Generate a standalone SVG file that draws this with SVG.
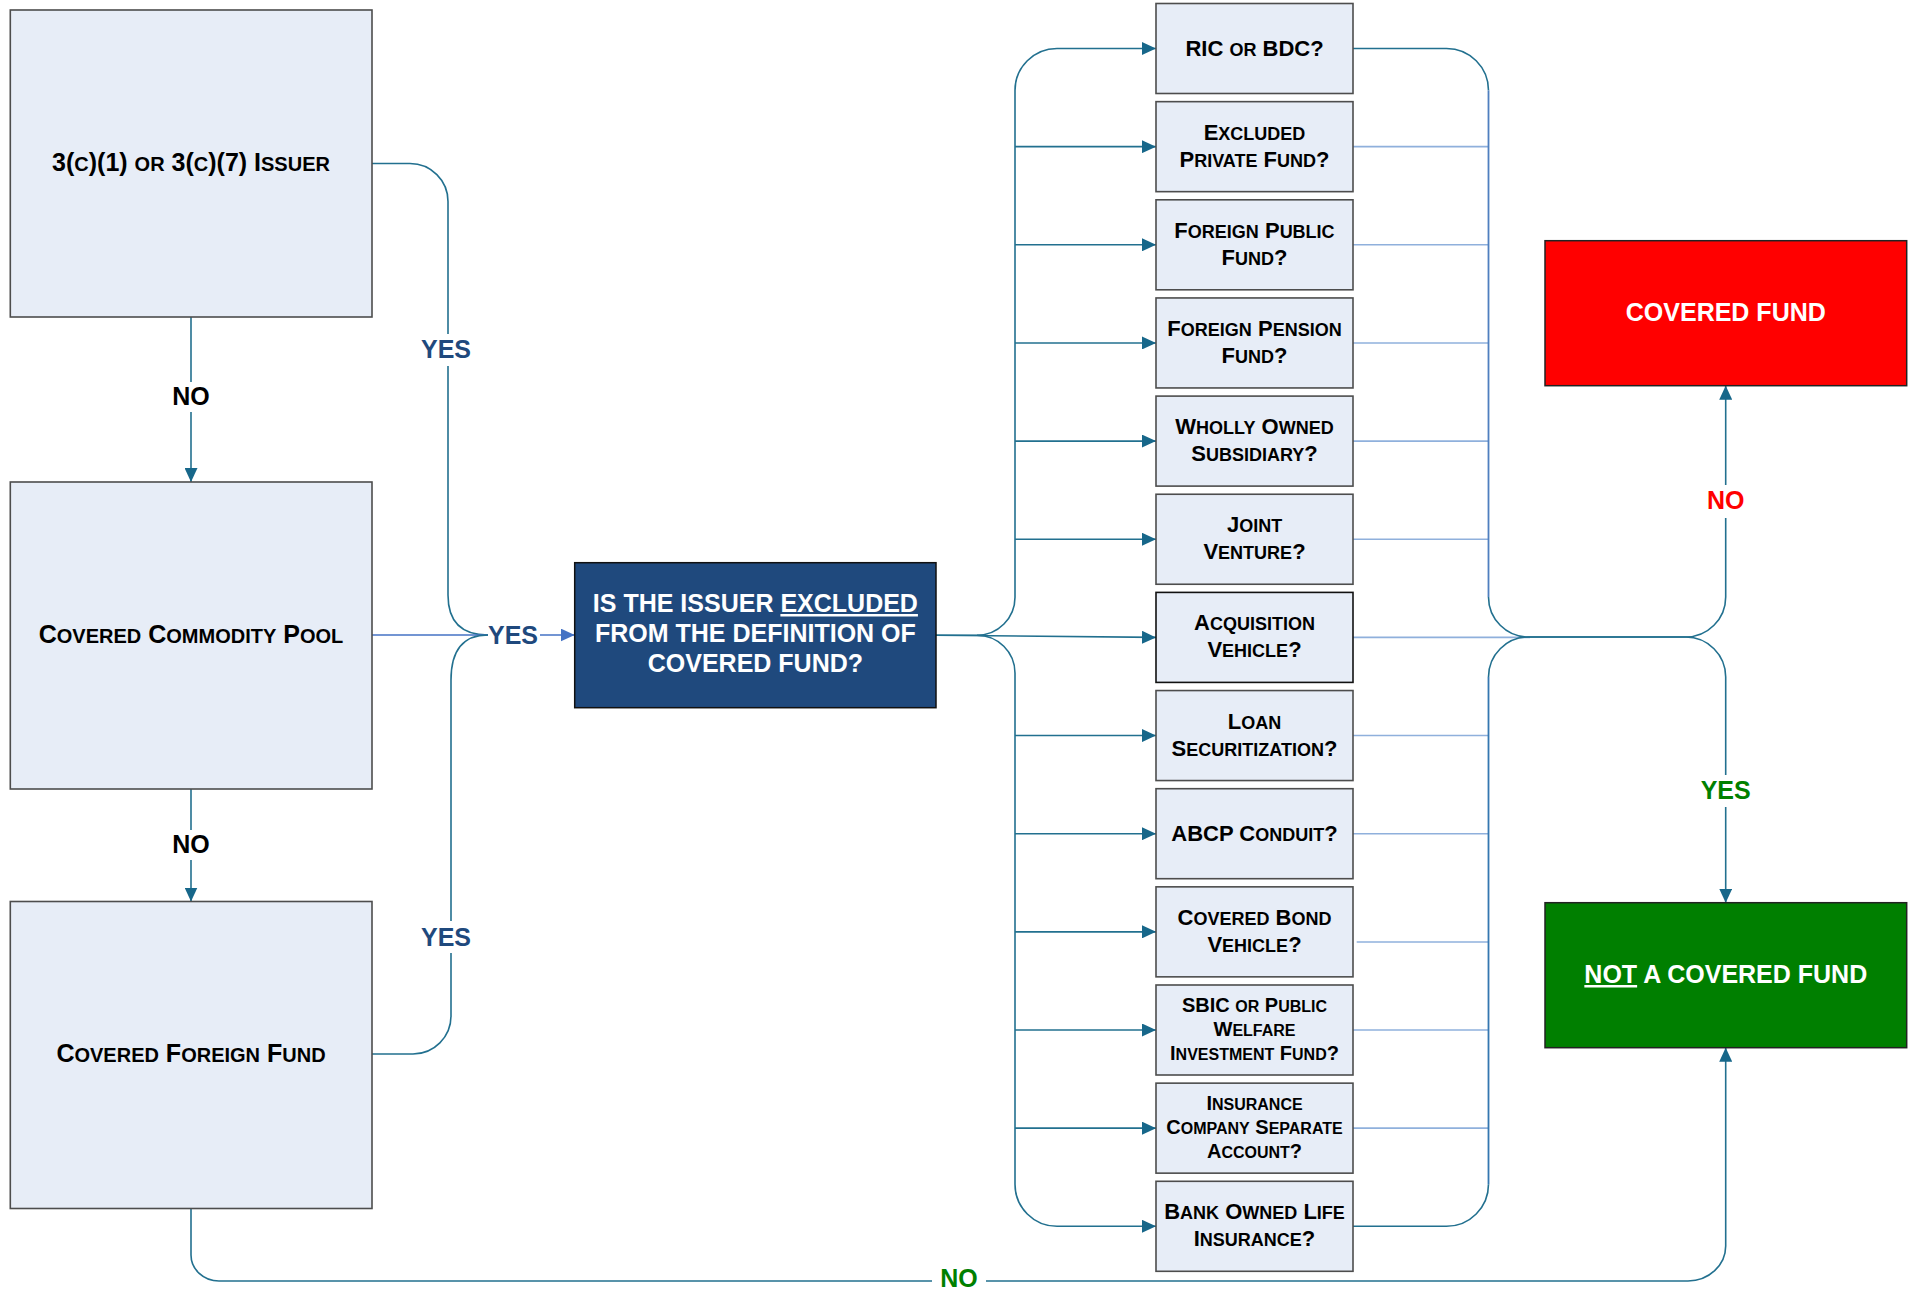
<svg xmlns="http://www.w3.org/2000/svg" width="1918" height="1292" viewBox="0 0 1918 1292">
  <style>
    .box { fill: #E7EDF7; stroke: #4D4D4D; stroke-width: 1.6; }
    .t { font-family: 'Liberation Sans', Arial, sans-serif; font-weight: bold; text-anchor: middle; fill: #000; }
    .big { font-size: 25px; }
    .big .s { font-size: 20px; }
    .q { font-size: 22px; }
    .q .s { font-size: 18px; }
    .q3 { font-size: 20px; }
    .q3 .s { font-size: 16px; }
    .w { fill: #FFFFFF; }
    .tl { fill: none; stroke: #22708F; stroke-width: 1.6; }
    .lb { fill: none; stroke: #8FB0DC; stroke-width: 1.6; }
    .rb { fill: none; stroke: #4F7FBF; stroke-width: 1.8; }
    .bl { fill: none; stroke: #4472C4; stroke-width: 1.6; }
    .lab-blue { fill: #1F497D; }
    .lab-red { fill: #FF0000; }
    .lab-green { fill: #008000; }
  </style>
  <defs>
    <marker id="ah" viewBox="0 0 14 13" refX="14" refY="6.5" markerWidth="14" markerHeight="13" markerUnits="userSpaceOnUse" orient="auto">
      <path d="M0,0 L14,6.5 L0,13 z" fill="#17678A"/>
    </marker>
    <marker id="ahb" viewBox="0 0 14 13" refX="14" refY="6.5" markerWidth="14" markerHeight="13" markerUnits="userSpaceOnUse" orient="auto">
      <path d="M0,0 L14,6.5 L0,13 z" fill="#4472C4"/>
    </marker>
  </defs>

  <rect width="1918" height="1292" fill="#FFFFFF"/>

  <!-- connectors -->
  <g id="connectors">
    <!-- left column: NO chain -->
    <path class="tl" d="M191,317 V382"/>
    <path class="tl" d="M191,412 V482" marker-end="url(#ah)"/>
    <path class="tl" d="M191,789 V830"/>
    <path class="tl" d="M191,860 V901.5" marker-end="url(#ah)"/>

    <!-- YES feeds into the question -->
    <path class="tl" d="M372,163.5 H410 A38,38 0 0 1 448,201.5 V334"/>
    <path class="tl" d="M448,366 V595 C448,622 462,635 488,635"/>
    <path class="bl" d="M372,635 H488"/>
    <path class="tl" d="M372,1054 H413 A38,38 0 0 0 451,1016 V953"/>
    <path class="tl" d="M451,921 V680 C451,648 465,635 488,635"/>
    <path class="bl" d="M540,635 H574.7" marker-end="url(#ahb)"/>

    <!-- question fans out to the exclusion tests -->
    <path class="tl" d="M936,635.2 H977 A38,38 0 0 0 1015,597 V90.5 A42,42 0 0 1 1057,48.5 H1156" marker-end="url(#ah)"/>
    <path class="tl" d="M977,635.2 A38,38 0 0 1 1015,673 V1184.3 A42,42 0 0 0 1057,1226.3 H1156" marker-end="url(#ah)"/>
    <path class="tl" d="M936,635.2 L1156,637.4" marker-end="url(#ah)"/>
    <path class="tl" d="M1015,146.65 H1156" marker-end="url(#ah)"/>
    <path class="tl" d="M1015,244.8 H1156" marker-end="url(#ah)"/>
    <path class="tl" d="M1015,342.95 H1156" marker-end="url(#ah)"/>
    <path class="tl" d="M1015,441.1 H1156" marker-end="url(#ah)"/>
    <path class="tl" d="M1015,539.25 H1156" marker-end="url(#ah)"/>
    <path class="tl" d="M1015,735.55 H1156" marker-end="url(#ah)"/>
    <path class="tl" d="M1015,833.7 H1156" marker-end="url(#ah)"/>
    <path class="tl" d="M1015,931.85 H1156" marker-end="url(#ah)"/>
    <path class="tl" d="M1015,1030 H1156" marker-end="url(#ah)"/>
    <path class="tl" d="M1015,1128.15 H1156" marker-end="url(#ah)"/>

    <!-- exclusion tests gather on the right -->
    <path class="lb" d="M1353,146.65 H1488.5"/>
    <path class="lb" d="M1353,244.8 H1488.5"/>
    <path class="lb" d="M1353,342.95 H1488.5"/>
    <path class="lb" d="M1353,441.1 H1488.5"/>
    <path class="lb" d="M1353,539.25 H1488.5"/>
    <path class="lb" d="M1353,637.4 H1530"/>
    <path class="lb" d="M1353,735.55 H1488.5"/>
    <path class="lb" d="M1353,833.7 H1488.5"/>
    <path class="lb" d="M1356.7,942 H1488.5"/>
    <path class="lb" d="M1353,1030 H1488.5"/>
    <path class="lb" d="M1353,1128.15 H1488.5"/>

    <!-- upper trunk to COVERED FUND -->
    <path class="tl" d="M1353,48.5 H1446.5 A42,42 0 0 1 1488.5,90.5"/>
    <path class="rb" d="M1488.5,90.5 V597"/>
    <path class="tl" d="M1488.5,597 A40,40 0 0 0 1528.5,637 H1685.7 A40,40 0 0 0 1725.7,597 V518"/>
    <path class="tl" d="M1725.7,485 V385.7" marker-end="url(#ah)"/>

    <!-- lower trunk to NOT A COVERED FUND -->
    <path class="tl" d="M1353,1226.3 H1446.5 A42,42 0 0 0 1488.5,1184.3"/>
    <path class="rb" d="M1488.5,1184.3 V677" style="stroke:#3577B0"/>
    <path class="tl" d="M1488.5,677 A40,40 0 0 1 1528.5,637 H1685.7 A40,40 0 0 1 1725.7,677 V775"/>
    <path class="tl" d="M1725.7,807 V902.7" marker-end="url(#ah)"/>

    <!-- bottom NO from covered foreign fund -->
    <path class="tl" d="M191,1208.5 V1255 A28,26 0 0 0 219,1281 H932"/>
    <path class="tl" d="M986,1281 H1688 A38,35 0 0 0 1725.7,1246 V1047.7" marker-end="url(#ah)"/>

    <!-- connector labels -->
    <text class="t big" x="191" y="405">NO</text>
    <text class="t big" x="191" y="853">NO</text>
    <text class="t big lab-blue" x="446" y="358">YES</text>
    <text class="t big lab-blue" x="446" y="946">YES</text>
    <text class="t big lab-blue" x="513" y="644">YES</text>
    <text class="t big lab-red" x="1725.7" y="508.5">NO</text>
    <text class="t big lab-green" x="1725.7" y="799">YES</text>
    <text class="t big lab-green" x="959" y="1286.5">NO</text>
  </g>

  <!-- left column nodes -->
  <g id="n-issuer">
    <rect class="box" x="10.3" y="10" width="361.7" height="307"/>
    <text class="t big" x="191" y="171">3(<tspan class="s">C</tspan>)(1) <tspan class="s">OR</tspan> 3(<tspan class="s">C</tspan>)(7) I<tspan class="s">SSUER</tspan></text>
  </g>
  <g id="n-commodity-pool">
    <rect class="box" x="10.3" y="482" width="361.7" height="307"/>
    <text class="t big" x="191" y="643">C<tspan class="s">OVERED</tspan> C<tspan class="s">OMMODITY</tspan> P<tspan class="s">OOL</tspan></text>
  </g>
  <g id="n-foreign-fund">
    <rect class="box" x="10.3" y="901.5" width="361.7" height="307"/>
    <text class="t big" x="191" y="1062">C<tspan class="s">OVERED</tspan> F<tspan class="s">OREIGN</tspan> F<tspan class="s">UND</tspan></text>
  </g>

  <!-- central question -->
  <g id="n-question">
    <rect x="574.7" y="562.7" width="361.3" height="145" fill="#1F497D" stroke="#111111" stroke-width="1.5"/>
    <text class="t big w" x="755.4" y="612">IS THE ISSUER <tspan style="text-decoration:underline">EXCLUDED</tspan></text>
    <text class="t big w" x="755.4" y="642">FROM THE DEFINITION OF</text>
    <text class="t big w" x="755.4" y="672">COVERED FUND?</text>
  </g>

  <!-- exclusion tests -->
  <g id="n-ric-bdc">
    <rect class="box" x="1156" y="3.5" width="197" height="90"/>
    <text class="t q" x="1254.5" y="55.5">RIC <tspan class="s">OR</tspan> BDC?</text>
  </g>
  <g id="n-excluded-private-fund">
    <rect class="box" x="1156" y="101.65" width="197" height="90"/>
    <text class="t q" x="1254.5" y="139.65">E<tspan class="s">XCLUDED</tspan></text>
    <text class="t q" x="1254.5" y="166.65">P<tspan class="s">RIVATE</tspan> F<tspan class="s">UND</tspan>?</text>
  </g>
  <g id="n-foreign-public-fund">
    <rect class="box" x="1156" y="199.8" width="197" height="90"/>
    <text class="t q" x="1254.5" y="237.8">F<tspan class="s">OREIGN</tspan> P<tspan class="s">UBLIC</tspan></text>
    <text class="t q" x="1254.5" y="264.8">F<tspan class="s">UND</tspan>?</text>
  </g>
  <g id="n-foreign-pension-fund">
    <rect class="box" x="1156" y="297.95" width="197" height="90"/>
    <text class="t q" x="1254.5" y="335.95">F<tspan class="s">OREIGN</tspan> P<tspan class="s">ENSION</tspan></text>
    <text class="t q" x="1254.5" y="362.95">F<tspan class="s">UND</tspan>?</text>
  </g>
  <g id="n-wholly-owned-subsidiary">
    <rect class="box" x="1156" y="396.1" width="197" height="90"/>
    <text class="t q" x="1254.5" y="434.1">W<tspan class="s">HOLLY</tspan> O<tspan class="s">WNED</tspan></text>
    <text class="t q" x="1254.5" y="461.1">S<tspan class="s">UBSIDIARY</tspan>?</text>
  </g>
  <g id="n-joint-venture">
    <rect class="box" x="1156" y="494.25" width="197" height="90"/>
    <text class="t q" x="1254.5" y="532.25">J<tspan class="s">OINT</tspan></text>
    <text class="t q" x="1254.5" y="559.25">V<tspan class="s">ENTURE</tspan>?</text>
  </g>
  <g id="n-acquisition-vehicle">
    <rect class="box" x="1156" y="592.4" width="197" height="90" style="stroke:#111111"/>
    <text class="t q" x="1254.5" y="630.4">A<tspan class="s">CQUISITION</tspan></text>
    <text class="t q" x="1254.5" y="657.4">V<tspan class="s">EHICLE</tspan>?</text>
  </g>
  <g id="n-loan-securitization">
    <rect class="box" x="1156" y="690.55" width="197" height="90"/>
    <text class="t q" x="1254.5" y="728.55">L<tspan class="s">OAN</tspan></text>
    <text class="t q" x="1254.5" y="755.55">S<tspan class="s">ECURITIZATION</tspan>?</text>
  </g>
  <g id="n-abcp-conduit">
    <rect class="box" x="1156" y="788.7" width="197" height="90"/>
    <text class="t q" x="1254.5" y="840.7">ABCP C<tspan class="s">ONDUIT</tspan>?</text>
  </g>
  <g id="n-covered-bond-vehicle">
    <rect class="box" x="1156" y="886.85" width="197" height="90"/>
    <text class="t q" x="1254.5" y="924.85">C<tspan class="s">OVERED</tspan> B<tspan class="s">OND</tspan></text>
    <text class="t q" x="1254.5" y="951.85">V<tspan class="s">EHICLE</tspan>?</text>
  </g>
  <g id="n-sbic">
    <rect class="box" x="1156" y="985" width="197" height="90"/>
    <text class="t q3" x="1254.5" y="1012.3">SBIC <tspan class="s">OR</tspan> P<tspan class="s">UBLIC</tspan></text>
    <text class="t q3" x="1254.5" y="1036">W<tspan class="s">ELFARE</tspan></text>
    <text class="t q3" x="1254.5" y="1059.7">I<tspan class="s">NVESTMENT</tspan> F<tspan class="s">UND</tspan>?</text>
  </g>
  <g id="n-insurance-separate-account">
    <rect class="box" x="1156" y="1083.15" width="197" height="90"/>
    <text class="t q3" x="1254.5" y="1110.45">I<tspan class="s">NSURANCE</tspan></text>
    <text class="t q3" x="1254.5" y="1134.15">C<tspan class="s">OMPANY</tspan> S<tspan class="s">EPARATE</tspan></text>
    <text class="t q3" x="1254.5" y="1157.85">A<tspan class="s">CCOUNT</tspan>?</text>
  </g>
  <g id="n-bank-owned-life-insurance">
    <rect class="box" x="1156" y="1181.3" width="197" height="90"/>
    <text class="t q" x="1254.5" y="1218.8">B<tspan class="s">ANK</tspan> O<tspan class="s">WNED</tspan> L<tspan class="s">IFE</tspan></text>
    <text class="t q" x="1254.5" y="1245.8">I<tspan class="s">NSURANCE</tspan>?</text>
  </g>

  <!-- outcomes -->
  <g id="n-covered-fund">
    <rect x="1545" y="240.7" width="361.7" height="145" fill="#FF0000" stroke="#222222" stroke-width="1.5"/>
    <text class="t big w" x="1725.8" y="321">COVERED FUND</text>
  </g>
  <g id="n-not-covered-fund">
    <rect x="1545" y="902.7" width="361.7" height="145" fill="#007F00" stroke="#222222" stroke-width="1.5"/>
    <text class="t big w" x="1725.8" y="983"><tspan style="text-decoration:underline">NOT</tspan> A COVERED FUND</text>
  </g>
</svg>
